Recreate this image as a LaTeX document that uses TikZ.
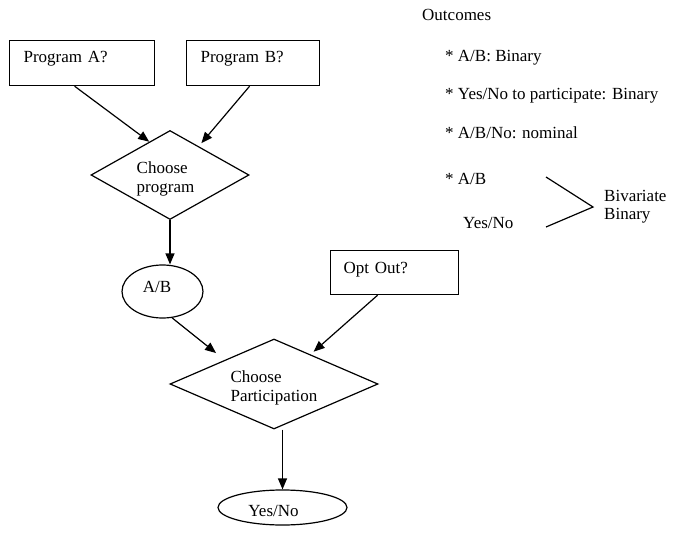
\documentclass[tikz,border=0pt]{standalone}
\usepackage{fontspec}
\setmainfont{Liberation Serif}
\usetikzlibrary{shapes.geometric,arrows.meta,calc}
\begin{document}
\begin{tikzpicture}[x=1pt,y=-1pt,
  every node/.style={font=\fontsize{17}{19.5}\selectfont},
  line/.style={line width=1.2pt},
  arr/.style={line width=1.2pt,-{Triangle[length=11pt,width=9pt]}},
  box/.style={draw,line width=1.2pt,rectangle,anchor=north west,align=left,inner ysep=0pt,text height=12pt},
  ell/.style={draw,line width=1.2pt,ellipse,inner sep=0pt},
  dia/.style={draw,line width=1.2pt,diamond,inner sep=0pt,align=left},
  txt/.style={anchor=base west,inner sep=0pt}]
\useasboundingbox (0,0) rectangle (685,548);
% boxes
\node[box, inner xsep=14pt, text width=117pt, minimum height=45pt, text depth=13.6pt] (pa) at (9,40) {Program A?};
\node[box, inner xsep=14pt, text width=105pt, minimum height=45pt, text depth=13.6pt] (pb) at (186,40) {Program B?};
\node[box, inner xsep=13pt, text width=102pt, minimum height=44pt, text depth=10pt] (oo) at (330,250) {Opt Out?};
% diamonds
\node[dia, aspect=1.8, minimum width=158pt, minimum height=89pt] (d1) at (170,175) {\rule{0pt}{19.6pt}Choose\\program\hspace*{9pt}};
\node[dia, aspect=2.3, minimum width=208pt, minimum height=90pt] (d2) at (274,384) {\rule{0pt}{19.6pt}Choose\\Participation};
% ellipses
\node[ell, minimum width=81pt, minimum height=53pt, text height=12pt, text depth=11pt] (ab) at (162.5,291.5) {A/B\hspace*{11pt}};
\node[ell, minimum width=129pt, minimum height=35pt, text height=18.4pt, text depth=0pt] (yn) at (282.5,507.5) {Yes/No\hspace*{18pt}};
% arrows
\draw[arr] ([xshift=-7.5pt]pa.south) -- (d1.122);
\draw[arr, shorten >=4pt] ([xshift=-3.5pt]pb.south) -- (d1.45);
\draw[arr] (d1.south) -- (d1.south |- ab.north);
\draw[arr, shorten >=11pt] (ab.-70) -- (d2.154);
\draw[arr, shorten >=4pt] ([xshift=-17pt]oo.south) -- (d2.39);
\draw[arr] (d2.south -| yn.north) -- (yn.north);
% outcomes text
\node[txt] (out) at (422,20.7) {Outcomes};
\node[txt] (o1) at (445,61.7) {* A/B: Binary};
\node[txt] (o2) at (445,100) {* Yes/No to participate: Binary};
\node[txt] (o3) at (445,139) {* A/B/No: nominal};
\node[txt] (o4) at (445,185) {* A/B};
\node[txt] (o5) at (463,229) {Yes/No};
\node[txt, align=left] (bb) at (604,219) {Bivariate\\[-2pt]Binary};
% bracket
\coordinate (b1) at (546,177);
\coordinate (b2) at (593,207);
\coordinate (b3) at (546,227);
\draw[line] (b1) -- (b2) -- (b3);
\end{tikzpicture}
\end{document}
